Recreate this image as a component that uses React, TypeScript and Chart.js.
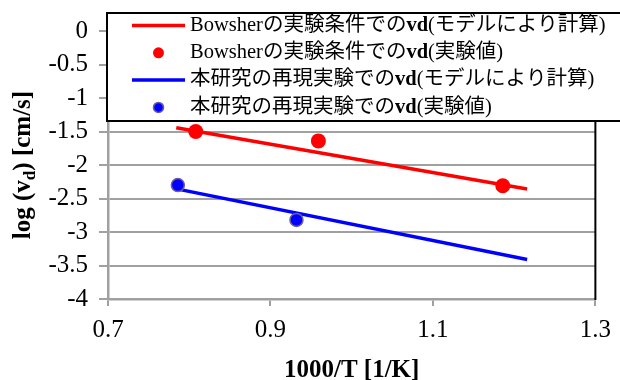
import React, { useEffect, useRef } from 'react';
import { Chart, registerables } from 'chart.js';

Chart.register(...registerables);

// ---- data ----
const xTicks = [0.7, 0.9, 1.1, 1.3];
const yTicks = [0, -0.5, -1, -1.5, -2, -2.5, -3, -3.5, -4];

const bowsherModelX = [0.784, 1.216];
const bowsherModelY = [-1.443, -2.358];
const bowsherExpX = [0.808, 0.959, 1.186];
const bowsherExpY = [-1.5, -1.64, -2.31];
const thisModelX = [0.786, 1.216];
const thisModelY = [-2.36, -3.41];
const thisExpX = [0.786, 0.932];
const thisExpY = [-2.3, -2.82];

type Seg = [string, boolean];
const legendLabels: Seg[][] = [
  [['Bowsherの実験条件での', false], ['vd', true], ['(モデルにより計算)', false]],
  [['Bowsherの実験条件での', false], ['vd', true], ['(実験値)', false]],
  [['本研究の再現実験での', false], ['vd', true], ['(モデルにより計算)', false]],
  [['本研究の再現実験での', false], ['vd', true], ['(実験値)', false]],
];
const xTitle = '1000/T [1/K]';
const yTitleParts = ['log (v', 'd', ') [cm/s]'];

const SERIF = '"Liberation Serif", serif';
const LEG_FONT = '"Liberation Serif", "Noto Sans CJK JP", serif';
const GRID = '#a0a0a0';

const pts = (xs: number[], ys: number[]) => xs.map((x, i) => ({ x, y: ys[i] }));

const overlay = {
  id: 'overlay',
  afterDraw(chart: any) {
    const ctx = chart.ctx as CanvasRenderingContext2D;
    const a = chart.chartArea;
    ctx.save();
    // right border
    ctx.strokeStyle = '#000';
    ctx.lineWidth = 2;
    ctx.beginPath();
    ctx.moveTo(a.right, a.top);
    ctx.lineTo(a.right, a.bottom + 1);
    ctx.stroke();

    // x title
    ctx.fillStyle = '#000';
    ctx.font = `bold 25px ${SERIF}`;
    ctx.textAlign = 'center';
    ctx.textBaseline = 'alphabetic';
    ctx.fillText(xTitle, (a.left + a.right) / 2, 377);

    // y title with subscript
    ctx.save();
    ctx.translate(30, (a.top + a.bottom) / 2);
    ctx.rotate(-Math.PI / 2);
    const bigF = `bold 25px ${SERIF}`;
    const subF = `bold 17px ${SERIF}`;
    ctx.font = bigF;
    const w0 = ctx.measureText(yTitleParts[0]).width;
    const w2 = ctx.measureText(yTitleParts[2]).width;
    ctx.font = subF;
    const w1 = ctx.measureText(yTitleParts[1]).width;
    let x = -(w0 + w1 + w2) / 2;
    ctx.textAlign = 'left';
    ctx.font = bigF;
    ctx.fillText(yTitleParts[0], x, 0);
    x += w0;
    ctx.font = subF;
    ctx.fillText(yTitleParts[1], x, 5);
    x += w1;
    ctx.font = bigF;
    ctx.fillText(yTitleParts[2], x, 0);
    ctx.restore();

    // legend box
    const bx = 107, by = 13, bw = 520, bh = 108;
    ctx.fillStyle = '#fff';
    ctx.fillRect(bx, by, bw, bh);
    ctx.strokeStyle = '#000';
    ctx.lineWidth = 2;
    ctx.strokeRect(bx, by, bw, bh);

    const ds = chart.data.datasets;
    [0, 1, 2, 3].forEach((di, i) => {
      const d = ds[di];
      const cy = 25.5 + i * 27.3;
      if (d.showLine) {
        ctx.strokeStyle = d.borderColor;
        ctx.lineWidth = 3.5;
        ctx.beginPath();
        ctx.moveTo(132, cy);
        ctx.lineTo(185, cy);
        ctx.stroke();
      } else {
        ctx.beginPath();
        ctx.arc(158.5, cy, di === 1 ? 5.5 : 5, 0, Math.PI * 2);
        ctx.fillStyle = d.pointBackgroundColor;
        ctx.fill();
        if (d.pointBorderWidth > 0) {
          ctx.lineWidth = d.pointBorderWidth;
          ctx.strokeStyle = d.pointBorderColor;
          ctx.stroke();
        }
      }
      let tx = 190;
      ctx.fillStyle = '#000';
      ctx.textAlign = 'left';
      ctx.textBaseline = 'middle';
      legendLabels[i].forEach(([t, bold]) => {
        ctx.font = `${bold ? 'bold ' : ''}20.5px ${LEG_FONT}`;
        ctx.fillText(t, tx, cy);
        tx += ctx.measureText(t).width;
      });
    });
    ctx.restore();
  },
};

export default function App() {
  const ref = useRef<HTMLCanvasElement>(null);
  useEffect(() => {
    if (!ref.current) return;
    const chart = new Chart(ref.current, {
      type: 'scatter',
      data: {
        datasets: [
          {
            label: 'Bowsher model',
            data: pts(bowsherModelX, bowsherModelY),
            showLine: true,
            borderColor: '#ff0000',
            borderWidth: 3.5,
            pointRadius: 0,
            order: 2,
          },
          {
            label: 'Bowsher exp',
            data: pts(bowsherExpX, bowsherExpY),
            showLine: false,
            pointRadius: 7.5,
            pointBackgroundColor: '#ff0000',
            pointBorderColor: '#ff0000',
            pointBorderWidth: 0,
            order: 0,
          },
          {
            label: 'This model',
            data: pts(thisModelX, thisModelY),
            showLine: true,
            borderColor: '#0000ff',
            borderWidth: 3.5,
            pointRadius: 0,
            order: 2,
          },
          {
            label: 'This exp',
            data: pts(thisExpX, thisExpY),
            showLine: false,
            pointRadius: 6.5,
            pointBackgroundColor: '#0000ff',
            pointBorderColor: '#6e5e9e',
            pointBorderWidth: 1.5,
            order: 0,
          },
        ] as any,
      },
      options: {
        responsive: false,
        animation: false,
        devicePixelRatio: 1,
        layout: { padding: { top: 31, right: 23, left: 0, bottom: 0 } },
        plugins: { legend: { display: false }, tooltip: { enabled: false } },
        scales: {
          x: {
            type: 'linear',
            min: 0.7,
            max: 1.3,
            afterBuildTicks: (s: any) => {
              s.ticks = xTicks.map((v) => ({ value: v }));
            },
            afterFit: (s: any) => {
              s.height = 81;
            },
            ticks: {
              callback: (v: any) => Number(v).toFixed(1),
              font: { family: SERIF, size: 25 },
              color: '#000',
              padding: 9,
              maxRotation: 0,
            },
            grid: {
              drawOnChartArea: false,
              drawTicks: true,
              tickLength: 7,
              color: GRID,
              lineWidth: 2,
            },
            border: { color: GRID, width: 2.5 },
          },
          y: {
            type: 'linear',
            min: -4,
            max: 0,
            afterBuildTicks: (s: any) => {
              s.ticks = yTicks.map((v) => ({ value: v }));
            },
            afterFit: (s: any) => {
              s.width = 108;
            },
            ticks: {
              callback: (v: any) => String(v),
              font: { family: SERIF, size: 25 },
              color: '#000',
              padding: 11,
            },
            grid: {
              drawOnChartArea: true,
              drawTicks: true,
              tickLength: 9,
              color: GRID,
              lineWidth: 2,
            },
            border: { color: GRID, width: 2.5 },
          },
        },
      },
      plugins: [overlay],
    } as any);
    return () => chart.destroy();
  }, []);
  return (
    <div style={{ position: 'absolute', left: 0, top: 0, width: 620, height: 380, background: '#fff' }}>
      <canvas ref={ref} width={620} height={380} />
    </div>
  );
}
